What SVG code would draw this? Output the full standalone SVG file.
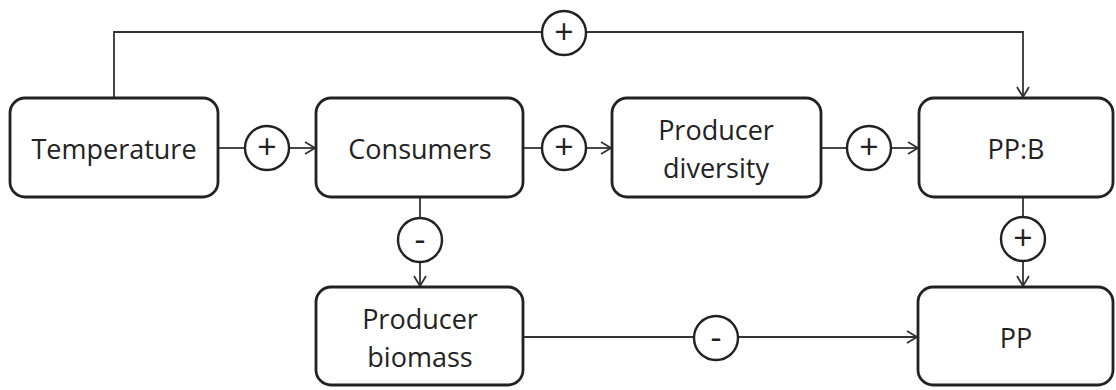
<svg xmlns="http://www.w3.org/2000/svg" width="1116" height="390" viewBox="0 0 1116 390">
<style>
.box{fill:#fff;stroke:#222;stroke-width:2.8}
.sign{fill:#fff;stroke:#222;stroke-width:2.4}
.line{fill:none;stroke:#333;stroke-width:1.8}
text{font-family:"Open Sans","Noto Sans","Liberation Sans",sans-serif;font-size:27px;fill:#222;text-anchor:middle;dominant-baseline:central}
.s{font-size:34px}
</style>
<defs>
<marker id="arr" markerWidth="14" markerHeight="14" refX="11" refY="7" orient="auto" markerUnits="userSpaceOnUse">
<path d="M1,1 L11,7 L1,13" fill="none" stroke="#333" stroke-width="1.8"/>
</marker>
</defs>
<rect width="1116" height="390" fill="#fff"/>
<g id="connectors">
<path class="line" d="M114,98 V32 H542"/>
<path class="line" d="M586,32 H1023 V97" marker-end="url(#arr)"/>
<path class="line" d="M218,148 H245"/>
<path class="line" d="M289,148 H315" marker-end="url(#arr)"/>
<path class="line" d="M523,148 H542"/>
<path class="line" d="M586,148 H611" marker-end="url(#arr)"/>
<path class="line" d="M821,148 H847"/>
<path class="line" d="M891,148 H918" marker-end="url(#arr)"/>
<path class="line" d="M420,197 V218"/>
<path class="line" d="M420,262 V286" marker-end="url(#arr)"/>
<path class="line" d="M1023,197 V217"/>
<path class="line" d="M1023,261 V286" marker-end="url(#arr)"/>
<path class="line" d="M523,337 H694"/>
<path class="line" d="M738,337 H917" marker-end="url(#arr)"/>
</g>
<g id="signs">
<g id="sign-top"><circle class="sign" cx="564" cy="33" r="22"/><text class="s" x="564" y="31">+</text></g>
<g id="sign-temp-cons"><circle class="sign" cx="267" cy="148" r="22"/><text class="s" x="267" y="146">+</text></g>
<g id="sign-cons-div"><circle class="sign" cx="564" cy="148" r="22"/><text class="s" x="564" y="146">+</text></g>
<g id="sign-div-ppb"><circle class="sign" cx="869" cy="148" r="22"/><text class="s" x="869" y="146">+</text></g>
<g id="sign-cons-bio"><circle class="sign" cx="420" cy="240" r="22"/><text class="s" x="420" y="238">-</text></g>
<g id="sign-ppb-pp"><circle class="sign" cx="1023" cy="239" r="22"/><text class="s" x="1023" y="237">+</text></g>
<g id="sign-bio-pp"><circle class="sign" cx="716" cy="338" r="22"/><text class="s" x="716" y="336">-</text></g>
</g>
<g id="temperature"><rect class="box" x="10" y="98" width="208" height="99" rx="15"/><text x="114" y="148">Temperature</text></g>
<g id="consumers"><rect class="box" x="316" y="98" width="207" height="99" rx="15"/><text x="420" y="148">Consumers</text></g>
<g id="producer-diversity"><rect class="box" x="612" y="98" width="209" height="99" rx="15"/><text x="716" y="129">Producer</text><text x="716" y="167">diversity</text></g>
<g id="ppb"><rect class="box" x="919" y="98" width="194" height="99" rx="15"/><text x="1016" y="148">PP:B</text></g>
<g id="producer-biomass"><rect class="box" x="316" y="287" width="207" height="98" rx="15"/><text x="420" y="318">Producer</text><text x="420" y="356">biomass</text></g>
<g id="pp"><rect class="box" x="918" y="287" width="195" height="98" rx="15"/><text x="1016" y="337">PP</text></g>
</svg>
